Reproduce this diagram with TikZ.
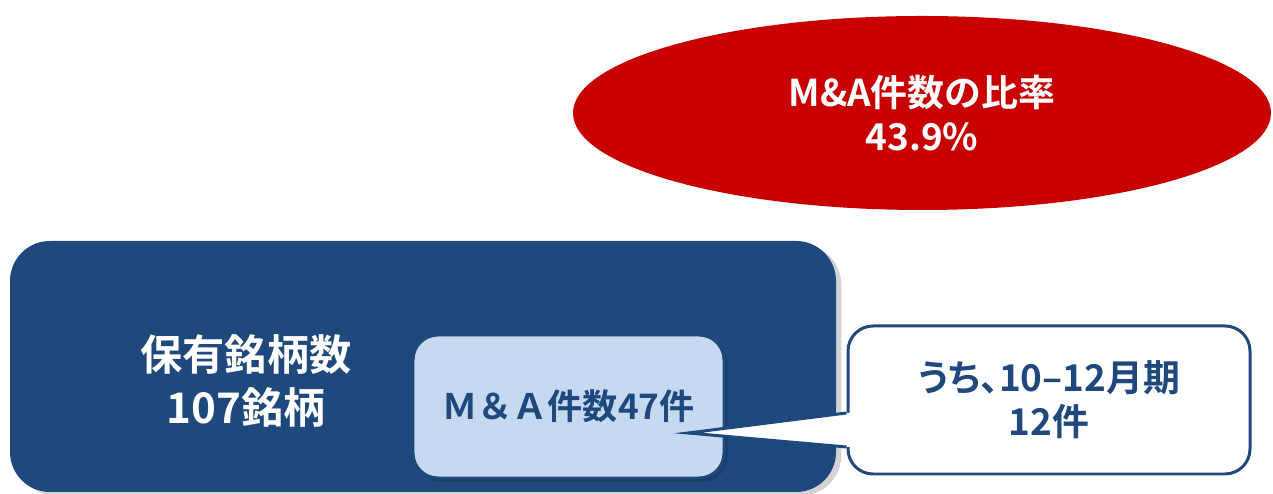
\documentclass[tikz,border=0pt]{standalone}
\usepackage{fontspec}
\setmainfont{Noto Sans CJK JP}[BoldFont={Noto Sans CJK JP Bold}]
\newfontfamily\paltfont{Noto Sans CJK JP Bold}[RawFeature=+palt]
\usetikzlibrary{calc,shapes.geometric,shadows}

\begin{document}
\begin{tikzpicture}
    % Define colors
    \definecolor{darkred}{RGB}{200,0,0}
    \definecolor{navy}{RGB}{31,73,125}
    \definecolor{paleblue}{RGB}{198,217,241}

    % Canvas
    \useasboundingbox (0,0) rectangle (25.46,9.88);

    % Ratio ellipse (red)
    \node[ellipse, fill=darkred, minimum width=13.96cm, minimum height=3.88cm, inner sep=0pt,
          text=white, align=center, font=\fontsize{21}{25}\selectfont\bfseries] (ratio) at (18.44,7.62)
          {M\&A件数の比率\\43.9\%};

    % Holdings box (dark blue)
    \node[draw=none, fill=navy, rounded corners=0.8cm, minimum width=16.52cm, minimum height=5.02cm,
          drop shadow={shadow xshift=3pt, shadow yshift=-2pt, opacity=0.35}] (hold) at (8.46,2.55) {};
    \node[text=white, align=center, font=\fontsize{24}{30}\selectfont\bfseries] (holdtxt) at (4.92,2.26)
          {保有銘柄数\\107銘柄};

    % M&A count box (pale blue)
    \node[draw=navy, line width=1.7pt, fill=paleblue, rounded corners=0.5cm, minimum width=6.22cm, minimum height=2.86cm,
          text=navy, font=\fontsize{20}{24}\selectfont\bfseries,
          drop shadow={shadow xshift=2pt, shadow yshift=-2pt, opacity=0.5, fill=navy!70!black}] (deals) at (11.37,1.75)
          {Ｍ＆Ａ件数47件};

    % Quarter callout (white)
    \node[draw=navy, line width=1.7pt, fill=white, rounded corners=0.5cm, minimum width=8.04cm, minimum height=2.96cm,
          text=navy, align=center, font=\fontsize{21}{25}\paltfont] (quarter) at (20.98,1.88)
          {うち、10–12月期\\12件};

    % Callout pointer
    \coordinate (tip) at (13.76,1.22);
    \coordinate (ptop) at ($(quarter.west)+(0,-0.26)$);
    \coordinate (pbot) at ($(quarter.west)+(0,-0.94)$);
    \fill[white] (ptop) -- (tip) -- (pbot) -- ($(pbot)+(0.1,0)$) -- ($(ptop)+(0.1,0)$) -- cycle;
    \draw[navy, line width=1.7pt, line join=miter] (ptop) -- (tip) -- (pbot);
\end{tikzpicture}
\end{document}
